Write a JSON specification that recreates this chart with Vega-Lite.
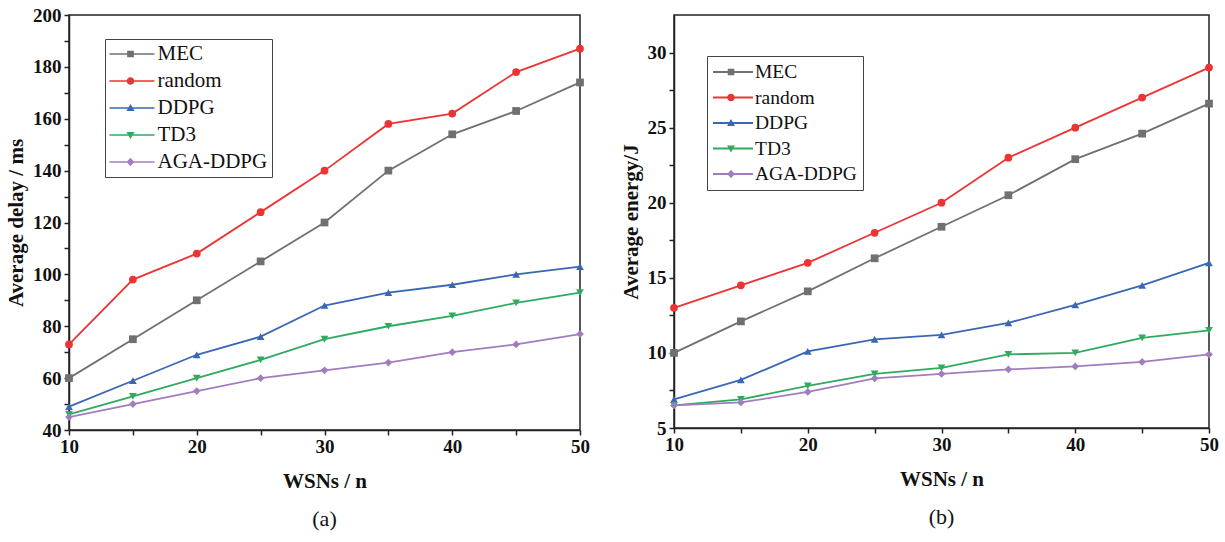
{
  "$schema": "https://vega.github.io/schema/vega-lite/v6.json",
  "padding": {"left": 4, "top": 5, "right": 5, "bottom": 5},
  "spacing": 28,
  "align": "none",
  "background": "white",
  "config": {
    "font": "Liberation Serif",
    "view": {"stroke": "#222", "strokeWidth": 1.5},
    "axis": {
      "labelFont": "Liberation Serif", "labelFontWeight": "bold", "labelFontSize": 19, "labelColor": "#111",
      "titleFont": "Liberation Serif", "titleFontWeight": "bold", "titleFontSize": 21, "titleColor": "#111",
      "grid": false, "domainColor": "#222", "domainWidth": 1.5, "tickColor": "#222", "tickWidth": 1.5, "tickSize": 5,
      "labelFlush": false
    },
    "legend": {
      "labelFont": "Liberation Serif", "labelFontSize": 21, "labelColor": "#111", "labelFontWeight": "normal",
      "strokeColor": "#444", "padding": 4.5, "rowPadding": 5, "clipHeight": 21, "symbolOpacity": 1, "symbolStrokeWidth": 0
    },
    "title": {"font": "Liberation Serif", "fontSize": 22, "fontWeight": "normal", "color": "#111"}
  },
  "datasets": {
    "delay": [
      {"n": 10, "s": "MEC", "v": 60}, {"n": 15, "s": "MEC", "v": 75}, {"n": 20, "s": "MEC", "v": 90}, {"n": 25, "s": "MEC", "v": 105}, {"n": 30, "s": "MEC", "v": 120}, {"n": 35, "s": "MEC", "v": 140}, {"n": 40, "s": "MEC", "v": 154}, {"n": 45, "s": "MEC", "v": 163}, {"n": 50, "s": "MEC", "v": 174},
      {"n": 10, "s": "random", "v": 73}, {"n": 15, "s": "random", "v": 98}, {"n": 20, "s": "random", "v": 108}, {"n": 25, "s": "random", "v": 124}, {"n": 30, "s": "random", "v": 140}, {"n": 35, "s": "random", "v": 158}, {"n": 40, "s": "random", "v": 162}, {"n": 45, "s": "random", "v": 178}, {"n": 50, "s": "random", "v": 187},
      {"n": 10, "s": "DDPG", "v": 49}, {"n": 15, "s": "DDPG", "v": 59}, {"n": 20, "s": "DDPG", "v": 69}, {"n": 25, "s": "DDPG", "v": 76}, {"n": 30, "s": "DDPG", "v": 88}, {"n": 35, "s": "DDPG", "v": 93}, {"n": 40, "s": "DDPG", "v": 96}, {"n": 45, "s": "DDPG", "v": 100}, {"n": 50, "s": "DDPG", "v": 103},
      {"n": 10, "s": "TD3", "v": 46}, {"n": 15, "s": "TD3", "v": 53}, {"n": 20, "s": "TD3", "v": 60}, {"n": 25, "s": "TD3", "v": 67}, {"n": 30, "s": "TD3", "v": 75}, {"n": 35, "s": "TD3", "v": 80}, {"n": 40, "s": "TD3", "v": 84}, {"n": 45, "s": "TD3", "v": 89}, {"n": 50, "s": "TD3", "v": 93},
      {"n": 10, "s": "AGA-DDPG", "v": 45}, {"n": 15, "s": "AGA-DDPG", "v": 50}, {"n": 20, "s": "AGA-DDPG", "v": 55}, {"n": 25, "s": "AGA-DDPG", "v": 60}, {"n": 30, "s": "AGA-DDPG", "v": 63}, {"n": 35, "s": "AGA-DDPG", "v": 66}, {"n": 40, "s": "AGA-DDPG", "v": 70}, {"n": 45, "s": "AGA-DDPG", "v": 73}, {"n": 50, "s": "AGA-DDPG", "v": 77}
    ],
    "energy": [
      {"n": 10, "s": "MEC", "v": 10}, {"n": 15, "s": "MEC", "v": 12.1}, {"n": 20, "s": "MEC", "v": 14.1}, {"n": 25, "s": "MEC", "v": 16.3}, {"n": 30, "s": "MEC", "v": 18.4}, {"n": 35, "s": "MEC", "v": 20.5}, {"n": 40, "s": "MEC", "v": 22.9}, {"n": 45, "s": "MEC", "v": 24.6}, {"n": 50, "s": "MEC", "v": 26.6},
      {"n": 10, "s": "random", "v": 13}, {"n": 15, "s": "random", "v": 14.5}, {"n": 20, "s": "random", "v": 16}, {"n": 25, "s": "random", "v": 18}, {"n": 30, "s": "random", "v": 20}, {"n": 35, "s": "random", "v": 23}, {"n": 40, "s": "random", "v": 25}, {"n": 45, "s": "random", "v": 27}, {"n": 50, "s": "random", "v": 29},
      {"n": 10, "s": "DDPG", "v": 6.9}, {"n": 15, "s": "DDPG", "v": 8.2}, {"n": 20, "s": "DDPG", "v": 10.1}, {"n": 25, "s": "DDPG", "v": 10.9}, {"n": 30, "s": "DDPG", "v": 11.2}, {"n": 35, "s": "DDPG", "v": 12}, {"n": 40, "s": "DDPG", "v": 13.2}, {"n": 45, "s": "DDPG", "v": 14.5}, {"n": 50, "s": "DDPG", "v": 16},
      {"n": 10, "s": "TD3", "v": 6.5}, {"n": 15, "s": "TD3", "v": 6.9}, {"n": 20, "s": "TD3", "v": 7.8}, {"n": 25, "s": "TD3", "v": 8.6}, {"n": 30, "s": "TD3", "v": 9.0}, {"n": 35, "s": "TD3", "v": 9.9}, {"n": 40, "s": "TD3", "v": 10.0}, {"n": 45, "s": "TD3", "v": 11.0}, {"n": 50, "s": "TD3", "v": 11.5},
      {"n": 10, "s": "AGA-DDPG", "v": 6.5}, {"n": 15, "s": "AGA-DDPG", "v": 6.7}, {"n": 20, "s": "AGA-DDPG", "v": 7.4}, {"n": 25, "s": "AGA-DDPG", "v": 8.3}, {"n": 30, "s": "AGA-DDPG", "v": 8.6}, {"n": 35, "s": "AGA-DDPG", "v": 8.9}, {"n": 40, "s": "AGA-DDPG", "v": 9.1}, {"n": 45, "s": "AGA-DDPG", "v": 9.4}, {"n": 50, "s": "AGA-DDPG", "v": 9.9}
    ]
  },
  "resolve": {"scale": {"color": "independent", "shape": "independent"}, "legend": {"color": "independent", "shape": "independent"}},
  "hconcat": [
    {
      "width": 511, "height": 415,
      "title": {"text": "(a)", "orient": "bottom", "anchor": "middle", "offset": 18},
      "data": {"name": "delay"},
      "resolve": {"scale": {"color": "independent", "shape": "independent"}},
      "encoding": {
        "x": {"field": "n", "type": "quantitative", "scale": {"domain": [10, 50]},
              "axis": {"title": "WSNs / n", "values": [10, 15, 20, 25, 30, 35, 40, 45, 50], "labelExpr": "datum.value % 10 == 0 ? datum.label : ''", "labelPadding": 2, "titlePadding": 14}},
        "y": {"field": "v", "type": "quantitative", "scale": {"domain": [40, 200]},
              "axis": {"title": "Average delay / ms", "values": [40, 50, 60, 70, 80, 90, 100, 110, 120, 130, 140, 150, 160, 170, 180, 190, 200], "labelExpr": "datum.value % 20 == 0 ? datum.label : ''", "labelPadding": 3, "titlePadding": 6}}
      },
      "layer": [
        {"mark": {"type": "line", "strokeWidth": 1.8},
         "encoding": {"color": {"field": "s", "type": "nominal", "legend": null,
            "scale": {"domain": ["MEC", "random", "DDPG", "TD3", "AGA-DDPG"], "range": ["#707070", "#ec3434", "#3a67b4", "#2faa5e", "#a17dbf"]}}}},
        {"mark": {"type": "point", "filled": true, "opacity": 1, "size": 60},
         "encoding": {
           "color": {"field": "s", "type": "nominal", "legend": null,
            "scale": {"domain": ["MEC", "random", "DDPG", "TD3", "AGA-DDPG"], "range": ["#707070", "#ec3434", "#3a67b4", "#2faa5e", "#a17dbf"]}},
           "shape": {"field": "s", "type": "nominal", "legend": null,
                     "scale": {"domain": ["MEC", "random", "DDPG", "TD3", "AGA-DDPG"], "range": ["square", "circle", "triangle-up", "triangle-down", "diamond"]}}
         }},
        {"mark": {"type": "point", "filled": true, "opacity": 0, "size": 10},
         "encoding": {
           "color": {"field": "s", "type": "nominal",
            "scale": {"domain": ["MEC", "random", "DDPG", "TD3", "AGA-DDPG"], "range": ["#707070", "#ec3434", "#3a67b4", "#2faa5e", "#a17dbf"]},
            "legend": {"title": null, "orient": "none", "legendX": 36, "legendY": 24, "symbolSize": 2304, "symbolOffset": -3, "labelOffset": 3}},
           "shape": {"field": "s", "type": "nominal",
                     "scale": {"domain": ["MEC", "random", "DDPG", "TD3", "AGA-DDPG"], "range": [
                       "M-1,-0.036H1V0.036H-1ZM-0.14,-0.14H0.14V0.14H-0.14Z",
                       "M-1,-0.036H1V0.036H-1ZM-0.16,0A0.16,0.16 0 1,1 0.16,0A0.16,0.16 0 1,1 -0.16,0Z",
                       "M-1,-0.036H1V0.036H-1ZM0,-0.17L0.17,0.13L-0.17,0.13Z",
                       "M-1,-0.036H1V0.036H-1ZM0,0.17L-0.17,-0.13L0.17,-0.13Z",
                       "M-1,-0.036H1V0.036H-1ZM0,-0.18L0.16,0L0,0.18L-0.16,0Z"]},
                     "legend": {"title": null, "orient": "none", "legendX": 36, "legendY": 24, "symbolSize": 2304, "symbolOffset": -3, "labelOffset": 3}}
         }}
      ]
    },
    {
      "width": 535, "height": 413,
      "title": {"text": "(b)", "orient": "bottom", "anchor": "middle", "offset": 18},
      "data": {"name": "energy"},
      "resolve": {"scale": {"color": "independent", "shape": "independent"}},
      "encoding": {
        "x": {"field": "n", "type": "quantitative", "scale": {"domain": [10, 50]},
              "axis": {"title": "WSNs / n", "values": [10, 15, 20, 25, 30, 35, 40, 45, 50], "labelExpr": "datum.value % 10 == 0 ? datum.label : ''", "labelPadding": 2, "titlePadding": 14}},
        "y": {"field": "v", "type": "quantitative", "scale": {"domain": [5, 32.5]},
              "axis": {"title": "Average energy/J", "values": [5, 7.5, 10, 12.5, 15, 17.5, 20, 22.5, 25, 27.5, 30], "labelExpr": "datum.value % 5 == 0 ? datum.label : ''", "labelPadding": 3, "titlePadding": 6}}
      },
      "layer": [
        {"mark": {"type": "line", "strokeWidth": 1.8},
         "encoding": {"color": {"field": "s", "type": "nominal", "legend": null,
            "scale": {"domain": ["MEC", "random", "DDPG", "TD3", "AGA-DDPG"], "range": ["#707070", "#ec3434", "#3a67b4", "#2faa5e", "#a17dbf"]}}}},
        {"mark": {"type": "point", "filled": true, "opacity": 1, "size": 60},
         "encoding": {
           "color": {"field": "s", "type": "nominal", "legend": null,
            "scale": {"domain": ["MEC", "random", "DDPG", "TD3", "AGA-DDPG"], "range": ["#707070", "#ec3434", "#3a67b4", "#2faa5e", "#a17dbf"]}},
           "shape": {"field": "s", "type": "nominal", "legend": null,
                     "scale": {"domain": ["MEC", "random", "DDPG", "TD3", "AGA-DDPG"], "range": ["square", "circle", "triangle-up", "triangle-down", "diamond"]}}
         }},
        {"mark": {"type": "point", "filled": true, "opacity": 0, "size": 10},
         "encoding": {
           "color": {"field": "s", "type": "nominal",
            "scale": {"domain": ["MEC", "random", "DDPG", "TD3", "AGA-DDPG"], "range": ["#707070", "#ec3434", "#3a67b4", "#2faa5e", "#a17dbf"]},
            "legend": {"title": null, "orient": "none", "legendX": 33, "legendY": 41, "padding": 6, "symbolSize": 1936, "symbolOffset": -4, "labelOffset": 2, "labelFontSize": 19.5, "clipHeight": 20, "rowPadding": 5.5}},
           "shape": {"field": "s", "type": "nominal",
                     "scale": {"domain": ["MEC", "random", "DDPG", "TD3", "AGA-DDPG"], "range": [
                       "M-1,-0.04H1V0.04H-1ZM-0.15,-0.15H0.15V0.15H-0.15Z",
                       "M-1,-0.04H1V0.04H-1ZM-0.17,0A0.17,0.17 0 1,1 0.17,0A0.17,0.17 0 1,1 -0.17,0Z",
                       "M-1,-0.04H1V0.04H-1ZM0,-0.18L0.18,0.14L-0.18,0.14Z",
                       "M-1,-0.04H1V0.04H-1ZM0,0.18L-0.18,-0.14L0.18,-0.14Z",
                       "M-1,-0.04H1V0.04H-1ZM0,-0.19L0.17,0L0,0.19L-0.17,0Z"]},
                     "legend": {"title": null, "orient": "none", "legendX": 33, "legendY": 41, "padding": 6, "symbolSize": 1936, "symbolOffset": -4, "labelOffset": 2, "labelFontSize": 19.5, "clipHeight": 20, "rowPadding": 5.5}}
         }}
      ]
    }
  ]
}
